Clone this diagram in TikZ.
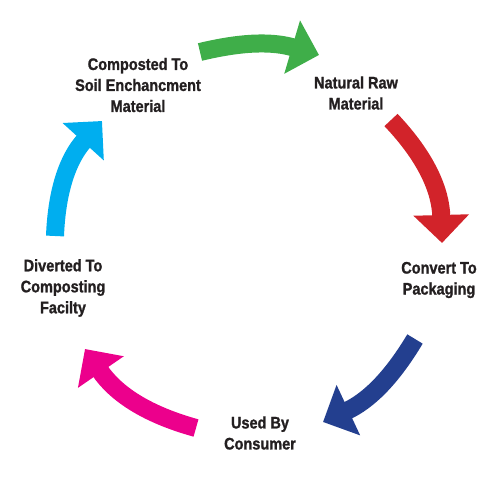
\documentclass[tikz,border=0pt]{standalone}
\usepackage{fontspec}
\newfontfamily\labelfont[FakeStretch=0.87, BoldFeatures={FakeBold=1.2}]{Liberation Sans}
\usepackage{tikz}
\usetikzlibrary{arrows.meta, positioning}
\definecolor{labtext}{HTML}{231F20}
\definecolor{cycgreen}{HTML}{3FAE49}
\definecolor{cycred}{HTML}{D2232A}
\definecolor{cycblue}{HTML}{233F8F}
\definecolor{cycpink}{HTML}{EC008C}
\definecolor{cyccyan}{HTML}{00AEEF}

\begin{document}
\begin{tikzpicture}[x=0.75pt, y=0.75pt, >={Triangle[width=40.5pt, length=21pt]}, font={\labelfont\bfseries\fontsize{12.5pt}{15.75pt}\selectfont}]

\useasboundingbox (0,0) rectangle (500,483);

\begin{scope}[align=center, text=labtext, inner sep=0pt]
	\node (compost) at (138,398) {Composted To\\Soil Enchancment\\Material};
	\node (natural) at (356,390) {Natural Raw\\Material};
	\node (convert) at (439,203) {Convert To\\Packaging};
	\node (used) at (260,50) {Used By\\Consumer};
	\node (divert) at (63,195) {Diverted To\\Composting\\Facilty};
\end{scope}

\coordinate (green-s) at (200,431);
\coordinate (green-e) at (319,428);
\coordinate (red-s) at (391,363);
\coordinate (red-e) at (442,240);
\coordinate (blue-s) at (415,144);
\coordinate (blue-e) at (323,61);
\coordinate (pink-s) at (196,55);
\coordinate (pink-e) at (85,134);
\coordinate (cyan-s) at (55,247);
\coordinate (cyan-e) at (102,362);

\begin{scope}[line width=13.5pt, ->]
	\draw[cycgreen] (green-s) to[bend left=15] (green-e);
	\draw[cycred] (red-s) to[bend left=21] (red-e);
	\draw[cycblue] (blue-s) to[bend left=17] (blue-e);
	\draw[cycpink] (pink-s) to[bend left=20] (pink-e);
	\draw[cyccyan] (cyan-s) to[bend left=20] (cyan-e);
\end{scope}

\end{tikzpicture}
\end{document}
